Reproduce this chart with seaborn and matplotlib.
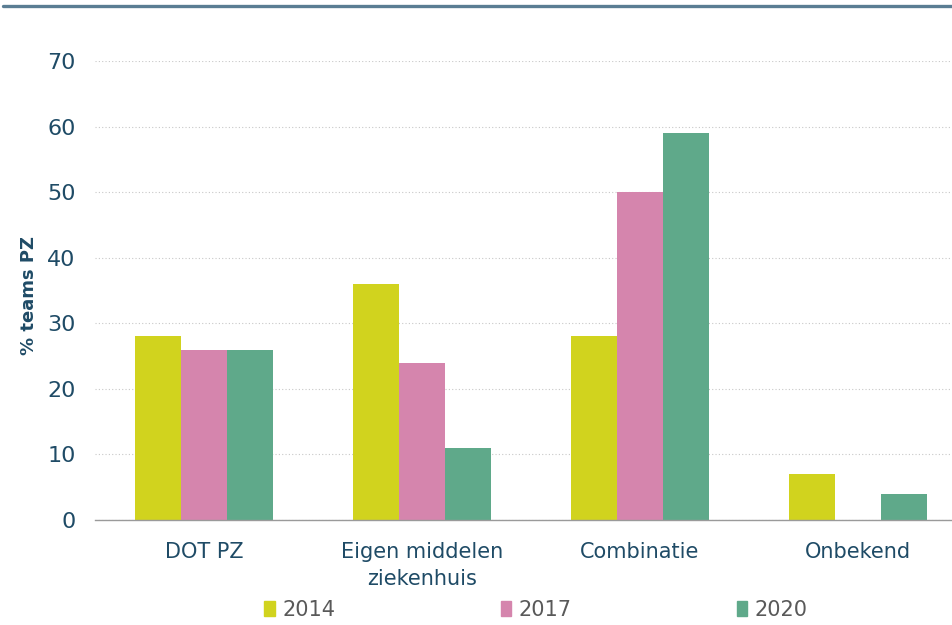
import pandas as pd
import numpy as np
import matplotlib
matplotlib.use("Agg")
import matplotlib.pyplot as plt
from matplotlib.lines import Line2D
from matplotlib.ticker import FixedLocator
import seaborn as sns

categories = ["DOT PZ", "Eigen middelen\nziekenhuis", "Combinatie", "Onbekend"]
years = ["2014", "2017", "2020"]
values_2014 = [28, 36, 28, 7]
values_2017 = [26, 24, 50, 0]
values_2020 = [26, 11, 59, 4]
y_ticks = [0, 10, 20, 30, 40, 50, 60, 70]

colors = {"2014": "#d1d31e", "2017": "#d585ad", "2020": "#5fa98a"}
text_col = "#1f4b66"

rows = []
for yr, vals in zip(years, [values_2014, values_2017, values_2020]):
    for cat, v in zip(categories, vals):
        rows.append({"categorie": cat, "jaar": yr, "waarde": v})
df = pd.DataFrame(rows)

sns.set_style("white")
plt.rcParams["font.family"] = ["DejaVu Sans"]

fig = plt.figure(figsize=(9.52, 6.25), dpi=100)
ax = fig.add_axes([95 / 952, 1 - 520 / 625, 1 - 95 / 952, (520 - 61) / 625])

sns.barplot(data=df, x="categorie", y="waarde", hue="jaar", palette=colors,
            width=0.63, saturation=1, ax=ax, legend=False, edgecolor="none")

ax.set_ylim(0, 70)
# axis runs a bit past the right edge of the figure, like the original
ax.set_xlim(-0.5, 3.5 - 15 / 218)
ax.set_yticks(y_ticks)
ax.yaxis.grid(True, linestyle=(0, (1, 2)), color="#c8c8c8", linewidth=0.8)
ax.set_axisbelow(True)
for s in ["top", "right", "left"]:
    ax.spines[s].set_visible(False)
ax.spines["bottom"].set_color("#9a9a9a")
ax.spines["bottom"].set_linewidth(1)

ax.set_xticks(range(len(categories)))
ax.set_xticklabels(categories, linespacing=1.45, va="top")
ax.xaxis.set_minor_locator(FixedLocator([-0.5, 0.5, 1.5, 2.5, 3.5]))
ax.tick_params(axis="x", which="major", length=0, pad=16, labelsize=15, labelcolor=text_col)
ax.tick_params(axis="x", which="minor", length=7, color="#9a9a9a", width=1, direction="out")
ax.tick_params(axis="y", length=0, pad=14, labelsize=16, labelcolor=text_col)

ax.set_xlabel("")
ax.set_ylabel("% teams PZ", fontsize=13, fontweight="bold", color=text_col)
ax.yaxis.set_label_coords((38 - 95) / 857, 0.49)

handles = [plt.Rectangle((0, 0), 1, 1, color=colors[y]) for y in years]
fig.legend(handles, years, loc="center", ncol=3,
           bbox_to_anchor=(536 / 952, 1 - 610 / 625), frameon=False,
           fontsize=15, handlelength=0.5, handleheight=0.7, handletextpad=0.35,
           columnspacing=7.95, labelcolor="#595959")

fig.add_artist(Line2D([3 / 952, 1], [1 - 6 / 625, 1 - 6 / 625], color="#5a7d93", linewidth=2.4))

fig.savefig("out.png", dpi=100)
